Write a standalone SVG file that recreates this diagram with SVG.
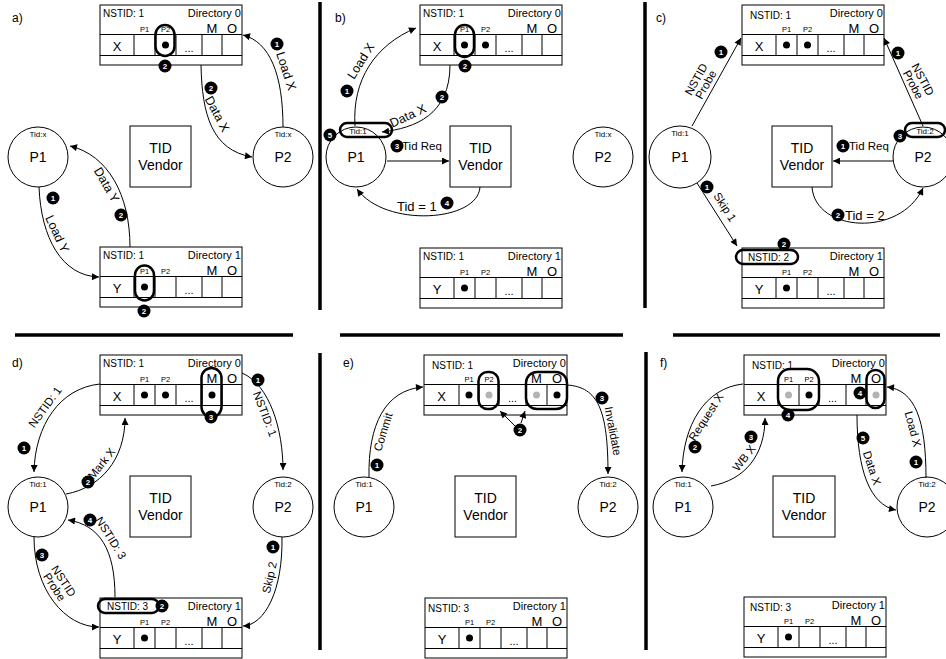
<svg xmlns="http://www.w3.org/2000/svg" width="946" height="659" viewBox="0 0 946 659">
<defs>
  <marker id="arr" viewBox="0 0 10 10" refX="10" refY="5" markerWidth="9.5" markerHeight="7" markerUnits="userSpaceOnUse" orient="auto">
    <path d="M0,0 L10,5 L0,10 z" fill="#000"/>
  </marker>
</defs>
<style>
  .box{fill:#fff;stroke:#000;stroke-width:1}
  .ln{fill:none;stroke:#000;stroke-width:1}
  .t{font-family:"Liberation Sans",Arial,Helvetica,sans-serif;fill:#000}
  .hdr{font-size:10px}
  .dir{font-size:11px;text-anchor:end}
  .pl{font-size:7.5px;text-anchor:middle}
  .mo{font-size:13px;text-anchor:middle}
  .cx{font-size:13px;text-anchor:middle}
  .dots{font-size:11px;text-anchor:middle}
  .dot{fill:#000}
  .gdot{fill:#b3b3b3}
  .hl{fill:none;stroke:#000;stroke-width:2.5}
  .node{fill:#fff;stroke:#000;stroke-width:1}
  .tid{font-size:8px;text-anchor:middle}
  .pn{font-size:14px;text-anchor:middle}
  .conn{fill:none;stroke:#000;stroke-width:1;marker-end:url(#arr)}
  .lbl{font-size:12.5px;text-anchor:middle}
  .lbl2{font-size:11.5px;text-anchor:middle}
  .big{font-size:13px}
  .bdg circle{fill:#000}
  .bdg text{fill:#fff;font-family:"Liberation Sans",Arial,sans-serif;font-size:8px;font-weight:bold;text-anchor:middle}
  .sep{stroke:#000;stroke-width:3.5}
  .pan{font-size:12px}
</style>

<!-- panel separators -->
<g id="separators">
  <line class="sep" x1="320" y1="2" x2="320" y2="310"/>
  <line class="sep" x1="645" y1="2" x2="645" y2="308"/>
  <line class="sep" x1="15" y1="335" x2="293" y2="335"/>
  <line class="sep" x1="340" y1="335" x2="623" y2="335"/>
  <line class="sep" x1="673" y1="335" x2="940" y2="335"/>
  <line class="sep" x1="320" y1="353" x2="320" y2="650"/>
  <line class="sep" x1="646" y1="352" x2="646" y2="650"/>
</g>

<g id="panel-labels">
  <text class="t pan" x="12" y="22">a)</text>
  <text class="t pan" x="335" y="22">b)</text>
  <text class="t pan" x="656" y="22">c)</text>
  <text class="t pan" x="12" y="367">d)</text>
  <text class="t pan" x="343" y="367">e)</text>
  <text class="t pan" x="660" y="367">f)</text>
</g>

<!-- ================= panel a ================= -->
<g id="a-dir0" transform="translate(100,5)">
  <rect class="box" x="0" y="0" width="142" height="60"/>
  <path class="ln" d="M0,29.5H142M0,50.5H142M34,29.5V50.5M55,29.5V50.5M76,29.5V50.5M102,29.5V50.5M122,29.5V50.5"/>
  <text class="t hdr" x="3" y="12">NSTID: 1</text>
  <text class="t dir" x="141" y="12">Directory 0</text>
  <text class="t pl" x="44.5" y="27">P1</text><text class="t pl" x="65.5" y="27">P2</text>
  <text class="t mo" x="112" y="28">M</text><text class="t mo" x="132" y="28">O</text>
  <text class="t cx" x="17" y="46">X</text><text class="t dots" x="89" y="47">...</text>
  <circle class="dot" cx="65.5" cy="40" r="3.5"/>
  <rect class="hl" x="55.5" y="20" width="19" height="31" rx="9.5"/>
</g>
<g id="a-dir1" transform="translate(100,247)">
  <rect class="box" x="0" y="0" width="142" height="60"/>
  <path class="ln" d="M0,29.5H142M0,50.5H142M34,29.5V50.5M55,29.5V50.5M76,29.5V50.5M102,29.5V50.5M122,29.5V50.5"/>
  <text class="t hdr" x="3" y="12">NSTID: 1</text>
  <text class="t dir" x="141" y="12">Directory 1</text>
  <text class="t pl" x="44.5" y="27">P1</text><text class="t pl" x="65.5" y="27">P2</text>
  <text class="t mo" x="112" y="28">M</text><text class="t mo" x="132" y="28">O</text>
  <text class="t cx" x="17" y="46">Y</text><text class="t dots" x="89" y="47">...</text>
  <circle class="dot" cx="44.5" cy="40" r="3.5"/>
  <rect class="hl" x="35" y="18.5" width="19" height="35" rx="9.5"/>
</g>
<g id="a-p1"><circle class="node" cx="38" cy="157" r="30"/><text class="t tid" x="38" y="137">Tid:x</text><text class="t pn" x="38" y="162">P1</text></g>
<g id="a-p2"><circle class="node" cx="283" cy="157" r="30"/><text class="t tid" x="283" y="137">Tid:x</text><text class="t pn" x="283" y="162">P2</text></g>
<g id="a-tid"><rect class="box" x="130" y="126" width="61" height="61"/><text class="t pn" x="160.5" y="153">TID</text><text class="t pn" x="160.5" y="170">Vendor</text></g>

<!-- ================= panel b ================= -->
<g id="b-dir0" transform="translate(420,5)">
  <rect class="box" x="0" y="0" width="142" height="60"/>
  <path class="ln" d="M0,29.5H142M0,50.5H142M34,29.5V50.5M55,29.5V50.5M76,29.5V50.5M102,29.5V50.5M122,29.5V50.5"/>
  <text class="t hdr" x="3" y="12">NSTID: 1</text>
  <text class="t dir" x="141" y="12">Directory 0</text>
  <text class="t pl" x="44.5" y="27">P1</text><text class="t pl" x="65.5" y="27">P2</text>
  <text class="t mo" x="112" y="28">M</text><text class="t mo" x="132" y="28">O</text>
  <text class="t cx" x="17" y="46">X</text><text class="t dots" x="89" y="47">...</text>
  <circle class="dot" cx="44.5" cy="40" r="3.5"/><circle class="dot" cx="65.5" cy="40" r="3.5"/>
  <rect class="hl" x="35" y="20" width="19" height="32" rx="9.5"/>
</g>
<g id="b-dir1" transform="translate(420,248)">
  <rect class="box" x="0" y="0" width="142" height="60"/>
  <path class="ln" d="M0,29.5H142M0,50.5H142M34,29.5V50.5M55,29.5V50.5M76,29.5V50.5M102,29.5V50.5M122,29.5V50.5"/>
  <text class="t hdr" x="3" y="12">NSTID: 1</text>
  <text class="t dir" x="141" y="12">Directory 1</text>
  <text class="t pl" x="44.5" y="27">P1</text><text class="t pl" x="65.5" y="27">P2</text>
  <text class="t mo" x="112" y="28">M</text><text class="t mo" x="132" y="28">O</text>
  <text class="t cx" x="17" y="46">Y</text><text class="t dots" x="89" y="47">...</text>
  <circle class="dot" cx="44.5" cy="40" r="3.5"/>
</g>
<g id="b-p1"><circle class="node" cx="356" cy="157" r="30"/><text class="t tid" x="358" y="134">Tid:1</text><text class="t pn" x="356" y="162">P1</text>
  <rect class="hl" x="340" y="123" width="52" height="14" rx="7"/></g>
<g id="b-p2"><circle class="node" cx="603" cy="157" r="30"/><text class="t tid" x="603" y="137">Tid:x</text><text class="t pn" x="603" y="162">P2</text></g>
<g id="b-tid"><rect class="box" x="450" y="126" width="61" height="61"/><text class="t pn" x="480.5" y="153">TID</text><text class="t pn" x="480.5" y="170">Vendor</text></g>

<!-- ================= panel c ================= -->
<g id="c-dir0" transform="translate(742,5)">
  <rect class="box" x="0" y="0" width="142" height="60"/>
  <path class="ln" d="M0,29.5H142M0,50.5H142M34,29.5V50.5M55,29.5V50.5M76,29.5V50.5M102,29.5V50.5M122,29.5V50.5"/>
  <text class="t hdr" x="8" y="14">NSTID: 1</text>
  <text class="t dir" x="141" y="12">Directory 0</text>
  <text class="t pl" x="44.5" y="27">P1</text><text class="t pl" x="65.5" y="27">P2</text>
  <text class="t mo" x="112" y="28">M</text><text class="t mo" x="132" y="28">O</text>
  <text class="t cx" x="17" y="46">X</text><text class="t dots" x="89" y="47">...</text>
  <circle class="dot" cx="44.5" cy="40" r="3.5"/><circle class="dot" cx="65.5" cy="40" r="3.5"/>
</g>
<g id="c-dir1" transform="translate(742,248)">
  <rect class="box" x="0" y="0" width="142" height="60"/>
  <path class="ln" d="M0,29.5H142M0,50.5H142M34,29.5V50.5M55,29.5V50.5M76,29.5V50.5M102,29.5V50.5M122,29.5V50.5"/>
  <text class="t hdr" x="6" y="13">NSTID: 2</text>
  <text class="t dir" x="141" y="12">Directory 1</text>
  <text class="t pl" x="44.5" y="27">P1</text><text class="t pl" x="65.5" y="27">P2</text>
  <text class="t mo" x="112" y="28">M</text><text class="t mo" x="132" y="28">O</text>
  <text class="t cx" x="17" y="46">Y</text><text class="t dots" x="89" y="47">...</text>
  <circle class="dot" cx="44.5" cy="40" r="3.5"/>
  <rect class="hl" x="-6" y="2" width="62" height="14" rx="7"/>
</g>
<g id="c-p1"><circle class="node" cx="680" cy="157" r="31"/><text class="t tid" x="680" y="136">Tid:1</text><text class="t pn" x="680" y="162">P1</text></g>
<g id="c-p2"><circle class="node" cx="923" cy="157" r="30"/><text class="t tid" x="925" y="134">Tid:2</text><text class="t pn" x="923" y="162">P2</text>
  <rect class="hl" x="905" y="123" width="40" height="14" rx="7"/></g>
<g id="c-tid"><rect class="box" x="772" y="126" width="60" height="61"/><text class="t pn" x="802" y="153">TID</text><text class="t pn" x="802" y="170">Vendor</text></g>

<!-- ================= panel d ================= -->
<g id="d-dir0" transform="translate(100,355)">
  <rect class="box" x="0" y="0" width="142" height="60"/>
  <path class="ln" d="M0,29.5H142M0,50.5H142M34,29.5V50.5M55,29.5V50.5M76,29.5V50.5M102,29.5V50.5M122,29.5V50.5"/>
  <text class="t hdr" x="3" y="12">NSTID: 1</text>
  <text class="t dir" x="141" y="12">Directory 0</text>
  <text class="t pl" x="44.5" y="27">P1</text><text class="t pl" x="65.5" y="27">P2</text>
  <text class="t mo" x="112" y="28">M</text><text class="t mo" x="132" y="28">O</text>
  <text class="t cx" x="17" y="46">X</text><text class="t dots" x="89" y="47">...</text>
  <circle class="dot" cx="44.5" cy="40" r="3.5"/><circle class="dot" cx="65.5" cy="40" r="3.5"/><circle class="dot" cx="112" cy="40" r="3.5"/>
  <rect class="hl" x="101.5" y="13" width="20" height="49" rx="10"/>
</g>
<g id="d-dir1" transform="translate(100,598)">
  <rect class="box" x="0" y="0" width="142" height="60"/>
  <path class="ln" d="M0,29.5H142M0,50.5H142M34,29.5V50.5M55,29.5V50.5M76,29.5V50.5M102,29.5V50.5M122,29.5V50.5"/>
  <text class="t hdr" x="7" y="12">NSTID: 3</text>
  <text class="t dir" x="141" y="12">Directory 1</text>
  <text class="t pl" x="44.5" y="27">P1</text><text class="t pl" x="65.5" y="27">P2</text>
  <text class="t mo" x="112" y="28">M</text><text class="t mo" x="132" y="28">O</text>
  <text class="t cx" x="17" y="46">Y</text><text class="t dots" x="89" y="47">...</text>
  <circle class="dot" cx="44.5" cy="40" r="3.5"/>
  <rect class="hl" x="-2" y="1" width="61" height="14" rx="7"/>
</g>
<g id="d-p1"><circle class="node" cx="38" cy="507" r="30"/><text class="t tid" x="38" y="487">Tid:1</text><text class="t pn" x="38" y="512">P1</text></g>
<g id="d-p2"><circle class="node" cx="283" cy="507" r="30"/><text class="t tid" x="283" y="487">Tid:2</text><text class="t pn" x="283" y="512">P2</text></g>
<g id="d-tid"><rect class="box" x="130" y="476" width="61" height="61"/><text class="t pn" x="160.5" y="503">TID</text><text class="t pn" x="160.5" y="520">Vendor</text></g>

<!-- ================= panel e ================= -->
<g id="e-dir0" transform="translate(424,355)">
  <rect class="box" x="0" y="0" width="143" height="60"/>
  <path class="ln" d="M0,29.5H143M0,50.5H143M35,29.5V50.5M55,29.5V50.5M75,29.5V50.5M102,29.5V50.5M123,29.5V50.5"/>
  <text class="t hdr" x="8" y="14">NSTID: 1</text>
  <text class="t dir" x="142" y="12">Directory 0</text>
  <text class="t pl" x="45" y="27">P1</text><text class="t pl" x="65" y="27">P2</text>
  <text class="t mo" x="112.5" y="28">M</text><text class="t mo" x="133" y="28">O</text>
  <text class="t cx" x="17.5" y="46">X</text><text class="t dots" x="88.5" y="47">...</text>
  <circle class="dot" cx="45" cy="40" r="3.5"/><circle class="gdot" cx="65" cy="40" r="3.5"/>
  <circle class="gdot" cx="112.5" cy="40" r="3.5"/><circle class="dot" cx="133" cy="40" r="3.5"/>
  <rect class="hl" x="54.5" y="17" width="20" height="37" rx="9"/>
  <rect class="hl" x="102" y="17" width="41" height="37" rx="11"/>
</g>
<g id="e-dir1" transform="translate(425,598)">
  <rect class="box" x="0" y="0" width="142" height="60"/>
  <path class="ln" d="M0,29.5H142M0,50.5H142M34,29.5V50.5M55,29.5V50.5M76,29.5V50.5M102,29.5V50.5M122,29.5V50.5"/>
  <text class="t hdr" x="3" y="14">NSTID: 3</text>
  <text class="t dir" x="141" y="12">Directory 1</text>
  <text class="t pl" x="44.5" y="27">P1</text><text class="t pl" x="65.5" y="27">P2</text>
  <text class="t mo" x="112" y="28">M</text><text class="t mo" x="132" y="28">O</text>
  <text class="t cx" x="17" y="46">Y</text><text class="t dots" x="89" y="47">...</text>
  <circle class="dot" cx="44.5" cy="40" r="3.5"/>
</g>
<g id="e-p1"><circle class="node" cx="364" cy="507" r="30"/><text class="t tid" x="364" y="487">Tid:1</text><text class="t pn" x="364" y="512">P1</text></g>
<g id="e-p2"><circle class="node" cx="608" cy="507" r="30"/><text class="t tid" x="608" y="487">Tid:2</text><text class="t pn" x="608" y="512">P2</text></g>
<g id="e-tid"><rect class="box" x="455" y="476" width="61" height="61"/><text class="t pn" x="485.5" y="503">TID</text><text class="t pn" x="485.5" y="520">Vendor</text></g>

<!-- ================= panel f ================= -->
<g id="f-dir0" transform="translate(744,355)">
  <rect class="box" x="0" y="0" width="142" height="60"/>
  <path class="ln" d="M0,29.5H142M0,50.5H142M34,29.5V50.5M55,29.5V50.5M75,29.5V50.5M102,29.5V50.5M122,29.5V50.5"/>
  <text class="t hdr" x="8" y="14">NSTID: 1</text>
  <text class="t dir" x="141" y="12">Directory 0</text>
  <text class="t pl" x="44.5" y="27">P1</text><text class="t pl" x="65" y="27">P2</text>
  <text class="t mo" x="112" y="28">M</text><text class="t mo" x="132" y="28">O</text>
  <text class="t cx" x="17" y="46">X</text><text class="t dots" x="88.5" y="47">...</text>
  <circle class="gdot" cx="44.5" cy="40" r="3.5"/><circle class="dot" cx="65" cy="40" r="3.5"/>
  <circle class="gdot" cx="132" cy="40" r="3.5"/>
  <rect class="hl" x="34" y="14" width="41" height="41" rx="12"/>
  <rect class="hl" x="122.5" y="15" width="18" height="38" rx="9"/>
</g>
<g id="f-dir1" transform="translate(744,597)">
  <rect class="box" x="0" y="0" width="142" height="60"/>
  <path class="ln" d="M0,29.5H142M0,50.5H142M34,29.5V50.5M55,29.5V50.5M76,29.5V50.5M102,29.5V50.5M122,29.5V50.5"/>
  <text class="t hdr" x="6" y="14">NSTID: 3</text>
  <text class="t dir" x="141" y="12">Directory 1</text>
  <text class="t pl" x="44.5" y="27">P1</text><text class="t pl" x="65.5" y="27">P2</text>
  <text class="t mo" x="112" y="28">M</text><text class="t mo" x="132" y="28">O</text>
  <text class="t cx" x="17" y="46">Y</text><text class="t dots" x="89" y="47">...</text>
  <circle class="dot" cx="44.5" cy="40" r="3.5"/>
</g>
<g id="f-p1"><circle class="node" cx="683" cy="507" r="30"/><text class="t tid" x="683" y="487">Tid:1</text><text class="t pn" x="683" y="512">P1</text></g>
<g id="f-p2"><circle class="node" cx="927" cy="507" r="30"/><text class="t tid" x="927" y="487">Tid:2</text><text class="t pn" x="927" y="512">P2</text></g>
<g id="f-tid"><rect class="box" x="773" y="476" width="62" height="61"/><text class="t pn" x="804" y="503">TID</text><text class="t pn" x="804" y="520">Vendor</text></g>

<!-- ================= connectors ================= -->
<g id="connectors">
  <!-- a -->
  <path class="conn" d="M283,127 C283,75 270,42 243,35"/>
  <path class="conn" d="M201,65 C202,115 212,150 252,157"/>
  <path class="conn" d="M130,247 C130,195 108,155 70,146"/>
  <path class="conn" d="M39,187 C41,238 62,276 99,277"/>
  <!-- b -->
  <path class="conn" d="M355,126 C352,80 375,45 416,28"/>
  <path class="conn" d="M450,65 C450,115 415,128 382,132"/>
  <path class="conn" d="M387,161 L449,161"/>
  <path class="conn" d="M480,187 C478,222 385,228 357,189"/>
  <!-- c -->
  <path class="conn" d="M692,126 L741,38"/>
  <path class="conn" d="M923,126 L884,38"/>
  <path class="conn" d="M893,161 L833,161"/>
  <path class="conn" d="M697,183 L737,246"/>
  <path class="conn" d="M812,187 C815,232 900,238 923,188"/>
  <!-- d -->
  <path class="conn" d="M100,384 C60,388 35,425 34,472"/>
  <path class="conn" d="M66,494 C100,488 125,460 125,418"/>
  <path class="conn" d="M242,373 C270,385 283,430 283,470"/>
  <path class="conn" d="M115,597 C115,550 100,525 68,520"/>
  <path class="conn" d="M34,537 C34,590 65,627 99,627"/>
  <path class="conn" d="M282,537 C283,590 265,625 243,626"/>
  <!-- e -->
  <path class="conn" d="M369,477 C368,425 385,390 423,387"/>
  <path class="conn" d="M567,385 C598,387 608,410 608,474"/>
  <path class="conn" d="M515,426 L500,411"/>
  <path class="conn" d="M521,423 L525,411"/>
  <!-- f -->
  <path class="conn" d="M743,384 C705,388 683,425 682,472"/>
  <path class="conn" d="M711,486 C745,480 765,455 765,418"/>
  <path class="conn" d="M857,415 C857,470 870,505 896,510"/>
  <path class="conn" d="M926,478 C926,420 915,390 887,387"/>
</g>

<!-- connector labels -->
<g id="labels">
  <text class="t lbl" transform="translate(286,71) rotate(72)" y="4">Load X</text>
  <text class="t lbl" transform="translate(217,114) rotate(62)" y="4">Data X</text>
  <text class="t lbl" transform="translate(106.5,185) rotate(60)" y="4">Data Y</text>
  <text class="t lbl" transform="translate(57,234) rotate(65)" y="4">Load Y</text>

  <text class="t lbl" transform="translate(361,61) rotate(-58)" y="4">Load X</text>
  <text class="t lbl" transform="translate(408,116) rotate(-25)" y="4">Data X</text>
  <text class="t lbl2" x="402" y="150" style="text-anchor:start">Tid Req</text>
  <text class="t lbl big" x="397" y="211" style="text-anchor:start">Tid = 1</text>

  <g transform="translate(701,82) rotate(-61)"><text class="t lbl2" y="-1.5">NSTID</text><text class="t lbl2" y="9.5">Probe</text></g>
  <g transform="translate(918,82) rotate(62)"><text class="t lbl2" y="-1.5">NSTID</text><text class="t lbl2" y="9.5">Probe</text></g>
  <text class="t lbl2" x="849" y="150" style="text-anchor:start">Tid Req</text>
  <text class="t lbl2" transform="translate(725,207) rotate(57)" y="4">Skip 1</text>
  <text class="t lbl big" x="845" y="220" style="text-anchor:start">Tid = 2</text>

  <text class="t lbl2" transform="translate(45,407) rotate(-54)" y="4">NSTID: 1</text>
  <text class="t lbl2" transform="translate(101.5,463.5) rotate(-52)" y="4">Mark X</text>
  <text class="t lbl2" transform="translate(265,414) rotate(69)" y="4">NSTID: 1</text>
  <text class="t lbl2" transform="translate(111,538) rotate(58)" y="4">NSTID: 3</text>
  <g transform="translate(59,584) rotate(57)"><text class="t lbl2" y="-1.5">NSTID</text><text class="t lbl2" y="9.5">Probe</text></g>
  <text class="t lbl2" transform="translate(269.5,577.5) rotate(-77)" y="4">Skip 2</text>

  <text class="t lbl2" transform="translate(383,432) rotate(-73)" y="4">Commit</text>
  <text class="t lbl2" transform="translate(613,431) rotate(79)" y="4">Invalidate</text>

  <text class="t lbl2" transform="translate(706,417) rotate(-57)" y="4">Request X</text>
  <text class="t lbl2" transform="translate(744,458) rotate(-52)" y="4">WB X</text>
  <text class="t lbl2" transform="translate(872,468) rotate(72)" y="4">Data X</text>
  <text class="t lbl2" transform="translate(913,429) rotate(75)" y="4">Load X</text>
</g>

<!-- step badges -->
<g id="badges">
  <g class="bdg"><circle cx="277" cy="44" r="6.5"/><text x="277" y="47">1</text></g>
  <g class="bdg"><circle cx="211" cy="88" r="6.5"/><text x="211" y="91">2</text></g>
  <g class="bdg"><circle cx="165" cy="66" r="6.5"/><text x="165" y="69">2</text></g>
  <g class="bdg"><circle cx="121" cy="215" r="6.5"/><text x="121" y="218">2</text></g>
  <g class="bdg"><circle cx="53" cy="198" r="6.5"/><text x="53" y="201">1</text></g>
  <g class="bdg"><circle cx="144" cy="311" r="6.5"/><text x="144" y="314">2</text></g>

  <g class="bdg"><circle cx="347" cy="91" r="6.5"/><text x="347" y="94">1</text></g>
  <g class="bdg"><circle cx="442" cy="97" r="6.5"/><text x="442" y="100">2</text></g>
  <g class="bdg"><circle cx="465" cy="66" r="6.5"/><text x="465" y="69">2</text></g>
  <g class="bdg"><circle cx="330" cy="135" r="6.5"/><text x="330" y="138">5</text></g>
  <g class="bdg"><circle cx="397" cy="146" r="6.5"/><text x="397" y="149">3</text></g>
  <g class="bdg"><circle cx="447" cy="203" r="6.5"/><text x="447" y="206">4</text></g>

  <g class="bdg"><circle cx="721" cy="52" r="6.5"/><text x="721" y="55">1</text></g>
  <g class="bdg"><circle cx="898" cy="53" r="6.5"/><text x="898" y="56">1</text></g>
  <g class="bdg"><circle cx="900" cy="136" r="6.5"/><text x="900" y="139">3</text></g>
  <g class="bdg"><circle cx="843" cy="146" r="6.5"/><text x="843" y="149">1</text></g>
  <g class="bdg"><circle cx="707" cy="187" r="6.5"/><text x="707" y="190">1</text></g>
  <g class="bdg"><circle cx="838" cy="215" r="6.5"/><text x="838" y="218">2</text></g>
  <g class="bdg"><circle cx="784" cy="244" r="6.5"/><text x="784" y="247">2</text></g>

  <g class="bdg"><circle cx="24" cy="448" r="6.5"/><text x="24" y="451">1</text></g>
  <g class="bdg"><circle cx="88" cy="482" r="6.5"/><text x="88" y="485">2</text></g>
  <g class="bdg"><circle cx="258" cy="380" r="6.5"/><text x="258" y="383">1</text></g>
  <g class="bdg"><circle cx="211" cy="417" r="6.5"/><text x="211" y="420">3</text></g>
  <g class="bdg"><circle cx="90" cy="520" r="6.5"/><text x="90" y="523">4</text></g>
  <g class="bdg"><circle cx="42" cy="555" r="6.5"/><text x="42" y="558">3</text></g>
  <g class="bdg"><circle cx="273" cy="547" r="6.5"/><text x="273" y="550">1</text></g>
  <g class="bdg"><circle cx="162" cy="606" r="6.5"/><text x="162" y="609">2</text></g>

  <g class="bdg"><circle cx="377" cy="465" r="6.5"/><text x="377" y="468">1</text></g>
  <g class="bdg"><circle cx="602" cy="398" r="6.5"/><text x="602" y="401">3</text></g>
  <g class="bdg"><circle cx="520" cy="430" r="6.5"/><text x="520" y="433">2</text></g>

  <g class="bdg"><circle cx="695" cy="447" r="6.5"/><text x="695" y="450">2</text></g>
  <g class="bdg"><circle cx="751" cy="437" r="6.5"/><text x="751" y="440">3</text></g>
  <g class="bdg"><circle cx="788" cy="415" r="6.5"/><text x="788" y="418">4</text></g>
  <g class="bdg"><circle cx="860" cy="393" r="6.5"/><text x="860" y="396">4</text></g>
  <g class="bdg"><circle cx="863" cy="438" r="6.5"/><text x="863" y="441">5</text></g>
  <g class="bdg"><circle cx="916" cy="462" r="6.5"/><text x="916" y="465">1</text></g>
</g>
</svg>
